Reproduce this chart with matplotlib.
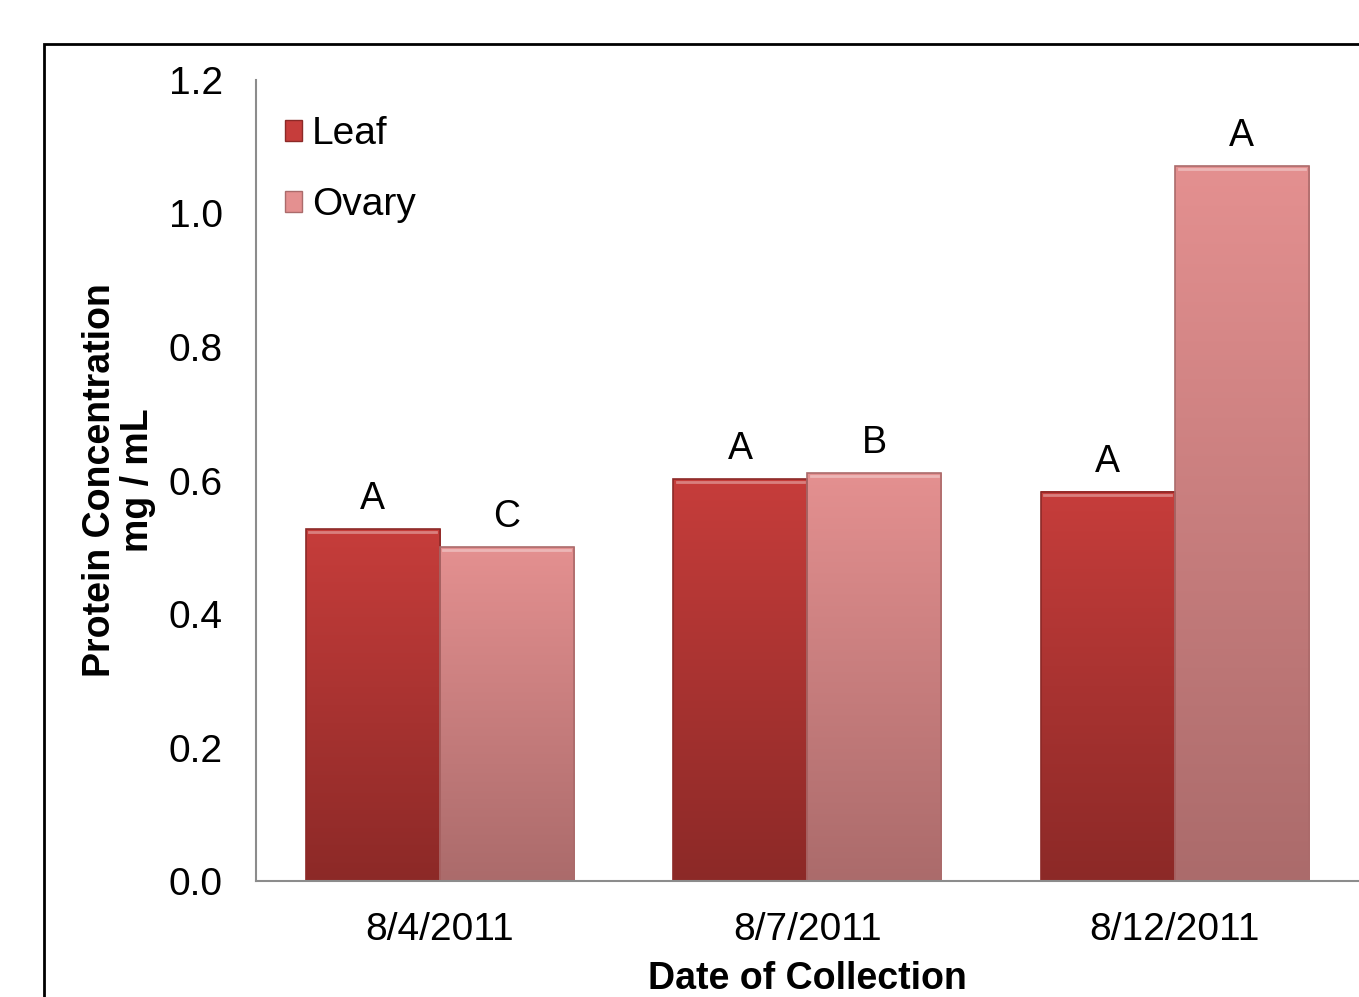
import numpy as np
import matplotlib
matplotlib.use("Agg")
import matplotlib.pyplot as plt
from matplotlib.patches import Rectangle
from matplotlib.colors import LinearSegmentedColormap

plt.rcParams['font.family'] = ['Liberation Sans', 'DejaVu Sans']

# data
dates = ["8/4/2011", "8/7/2011", "8/12/2011"]
leaf = [0.527, 0.602, 0.583]
ovary = [0.500, 0.611, 1.071]
leaf_letters = ["A", "A", "A"]
ovary_letters = ["C", "B", "A"]

# gradient colours, top -> bottom
leaf_cols = ["#c63d3b", "#8c2927"]
ovary_cols = ["#e49090", "#ab6b6b"]

fig = plt.figure(figsize=(13.59, 9.97), dpi=100)
ax = fig.add_axes([0.1884, 0.1163, 0.8113, 0.8035])

# outer frame (runs off right and bottom edges)
fig.patches.append(Rectangle((44 / 1359, -0.05), 1.1, 1 - 44 / 997 + 0.05,
                             transform=fig.transFigure, fill=False,
                             edgecolor="black", linewidth=2, zorder=0))

width = 0.365
x = np.arange(len(dates))


def grad_bar(ax, xc, h, cols):
    cmap = LinearSegmentedColormap.from_list("g", [cols[1], cols[0]])
    grad = np.linspace(0, 1, 256).reshape(-1, 1)
    ax.imshow(grad, cmap=cmap, origin="lower", aspect="auto",
              extent=[xc - width / 2, xc + width / 2, 0, h], zorder=2)
    ax.add_patch(Rectangle((xc - width / 2, 0), width, h, fill=False,
                           edgecolor=cols[1], linewidth=1.2, zorder=3))
    # light bevel along top edge
    ax.plot([xc - width / 2 + 0.01, xc + width / 2 - 0.01], [h - 0.004, h - 0.004],
            color="white", alpha=0.35, linewidth=2, zorder=4)


for i in range(len(dates)):
    grad_bar(ax, x[i] - width / 2, leaf[i], leaf_cols)
    grad_bar(ax, x[i] + width / 2, ovary[i], ovary_cols)
    ax.text(x[i] - width / 2, leaf[i] + 0.018, leaf_letters[i], ha="center",
            va="bottom", fontsize=27)
    ax.text(x[i] + width / 2, ovary[i] + 0.018, ovary_letters[i], ha="center",
            va="bottom", fontsize=27)

ax.set_xlim(-0.5, 2.5)
ax.set_ylim(0, 1.2)
ax.set_yticks(np.arange(0, 1.21, 0.2))
ax.set_yticklabels([f"{v:.1f}" for v in np.arange(0, 1.21, 0.2)])
ax.set_xticks(x)
ax.set_xticklabels(dates)
ax.tick_params(length=0, labelsize=28)
ax.tick_params(axis="y", pad=24)
ax.tick_params(axis="x", pad=22)
for s in ["top", "right"]:
    ax.spines[s].set_visible(False)
for s in ["left", "bottom"]:
    ax.spines[s].set_color("#8c8c8c")
    ax.spines[s].set_linewidth(1.5)
    ax.spines[s].set_zorder(5)

ax.set_xlabel("Date of Collection", fontsize=27, fontweight="bold", labelpad=10)
ax.set_ylabel("Protein Concentration\nmg / mL", fontsize=27, fontweight="bold",
              labelpad=9, linespacing=1.08)

# legend
handles = [Rectangle((0, 0), 1, 1, facecolor=leaf_cols[0], edgecolor=leaf_cols[1]),
           Rectangle((0, 0), 1, 1, facecolor=ovary_cols[0], edgecolor=ovary_cols[1])]
ax.legend(handles, ["Leaf", "Ovary"], loc="upper left", bbox_to_anchor=(0.026, 0.955),
          frameon=False, fontsize=28, handlelength=0.45, handleheight=0.45,
          handletextpad=0.25, labelspacing=0.9, borderpad=0, borderaxespad=0)

fig.savefig("out.png", dpi=100)
